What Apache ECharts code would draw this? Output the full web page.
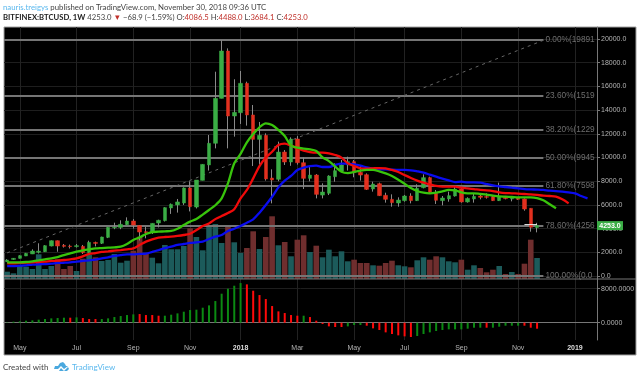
<!DOCTYPE html>
<html>
<head>
<meta charset="utf-8">
<style>
html, body { margin: 0; padding: 0; background: #fff; }
#main { width: 640px; height: 378px; }
</style>
<script src="https://cdn.jsdelivr.net/npm/echarts@6/dist/echarts.min.js"></script>
</head>
<body>
<div id="main"></div>
<script>
// weekly BTCUSD candles
var opens = [1210,1400,1490,1690,1860,2000,2050,2530,2980,2590,2530,2480,2500,1970,2830,2760,3260,4070,4100,4330,4640,4250,3740,3710,4470,4670,5740,6000,6160,7430,5820,8070,9370,11200,14990,18990,13500,13780,16260,13590,11530,11870,8270,8160,10460,9620,11560,9560,8240,8520,6830,6980,8380,8860,9370,9650,8750,8550,7340,7790,6810,6470,6160,6360,6750,6360,7450,8300,6980,6360,6500,6750,7340,6250,6500,6750,6700,6700,6360,6640,6500,6580,6500,5710,4086.5];
var closes = [1350,1490,1716,1910,2110,2100,2560,2980,2530,2500,2480,2560,1970,2840,2750,3290,4110,4110,4360,4640,4300,3710,3660,4440,4700,5770,6050,6250,7430,5850,8100,9420,11200,14990,18990,13500,13810,16260,13590,11530,11870,8190,8100,10460,9620,11560,9560,8240,8520,6890,7090,8440,8890,9370,9650,8720,8520,7310,7760,6780,6470,6190,6410,6750,6360,7400,8300,7060,6390,6580,6780,7340,6250,6550,6720,6640,6640,6360,6700,6530,6560,6470,5650,4110,4253];
var highs = [1420,1520,1750,1950,2250,2760,2600,3000,3000,2700,2650,2700,2620,2980,2900,3320,4120,4500,4700,4950,4800,4300,4160,4440,4750,5800,6120,6500,7480,7990,8100,9430,11900,17240,19891,19210,16600,17300,16400,14430,13000,12040,9000,11340,10630,11700,11810,10000,9230,8600,7820,8500,9510,9790,10070,9790,9370,8660,7960,7880,7030,6890,6640,6840,6980,7740,8580,8380,7260,6750,7120,7540,7450,6640,6980,6980,6980,6840,7880,6750,6750,6640,6550,5710,4488];
var lows = [1190,1370,1480,1680,1850,1900,2030,2500,2050,2400,2320,2400,1860,1900,2500,2700,3200,3950,3950,4300,4000,3000,3180,3550,4100,4600,5240,5350,6000,5450,5700,8070,8900,10770,14990,10770,11760,12830,12690,9280,9400,8050,6130,8000,9370,9300,9400,7340,7990,6550,6550,6830,7960,8800,8900,8330,8050,7260,7120,6750,6190,5850,5850,6270,6130,6330,7400,6980,6080,5960,6270,6700,6190,6190,6190,6470,6530,6330,6330,6470,6300,6420,5510,3740,3684.1];

// alligator style moving averages, these run past the last candle
var greenLine = [1150,1150,1150,1180,1240,1320,1410,1490,1600,1770,1910,2050,2160,2250,2330,2360,2390,2420,2470,2700,3040,3260,3540,3710,3740,3770,3800,3990,4300,4590,4810,5180,5570,5970,6550,7820,9510,10300,11280,11980,12550,12880,12740,12320,11810,11000,10830,10750,10690,10550,10010,9700,9230,8800,8690,8780,8890,8950,8950,8830,8660,8440,8130,7790,7430,7170,7030,6980,7030,7150,7260,7230,7060,6980,6980,6920,6860,6780,6720,6700,6670,6640,6640,6640,6580,6390,6050,5710];
var redLine = [1070,1070,1100,1130,1150,1180,1210,1270,1290,1350,1410,1490,1660,1860,1940,2030,2080,2140,2190,2250,2330,2620,2900,3090,3230,3290,3320,3380,3460,3570,3880,4220,4440,4800,5060,5320,5630,6550,7260,8240,9280,10000,10490,11050,11170,11000,10770,10580,10460,10410,10410,10350,10210,9990,9510,9280,9090,9060,9090,9110,9090,8950,8780,8520,8270,8050,7880,7740,7600,7540,7540,7540,7450,7400,7340,7260,7230,7170,7060,7000,6980,6950,6920,6890,6840,6780,6750,6700,6470,6130];
var blueLine = [840,840,870,900,960,990,1010,1040,1100,1120,1150,1210,1270,1320,1380,1490,1580,1690,1770,1830,1830,1860,1880,2030,2190,2360,2470,2620,2700,2790,2840,2900,3120,3320,3460,3800,3990,4220,4500,4780,5340,5990,6690,7480,8050,8440,8950,9140,9280,9310,9200,9200,9370,9480,9480,9420,9310,9170,9060,9000,9000,8970,8950,8950,8920,8830,8720,8550,8380,8210,8070,7930,7960,7900,7900,7880,7760,7650,7570,7510,7450,7400,7340,7310,7290,7260,7200,7170,7120,7060,6980,6750,6550];

var volumes = [73,57,130,123,100,247,100,130,197,100,130,80,203,240,217,180,190,250,163,183,283,423,250,213,157,340,297,297,330,507,420,287,540,550,360,520,367,260,310,477,300,420,627,337,370,227,393,437,270,333,217,293,227,277,177,193,160,160,137,133,160,183,137,127,117,187,217,193,227,217,177,167,193,93,137,110,67,93,130,50,70,50,153,393,210];

var macd = [78,235,314,470,549,706,862,1019,1098,1176,1176,1254,1098,862,862,862,1019,1333,1568,1803,1960,2038,1803,1803,1646,1646,1882,2195,2587,2979,3058,3528,4077,5096,6821,7997,8702,9330,9016,7526,6507,5566,3920,2666,2274,1803,1646,1646,1333,470,-314,-862,-1019,-1019,-862,-549,-549,-706,-1333,-1725,-2274,-2666,-2979,-3214,-3371,-3136,-2666,-2274,-1960,-1725,-1568,-1568,-1568,-1411,-1176,-1176,-1176,-1176,-941,-706,-706,-706,-706,-1176,-1411];
var macdRed = [10,12,13,14,21,22,23,24,38,39,40,41,42,43,44,45,46,48,49,50,51,52,53,57,58,59,60,61,62,63,64,76,82,83,84];

var fibLevels = [19891,15190,12290,9945,7598,4256,0];
var fibLabels = ['0.00%(19891','23.60%(1519','38.20%(1229','50.00%(9945','61.80%(7598','78.60%(4256','100.00%(0.0'];
var fibTrend = [[0,1950],[85,19891]];
var pointerMark = [[82,4340],[84,4340]];

var priceTicks = [0,2000,4000,6000,8000,10000,12000,14000,16000,18000,20000];
var macdTicks = [0,8000];
var timeTickIndex = [2,11,20,29,37,46,55,63,72,81,90];
var timeTickLabels = ['May','Jul','Sep','Nov','2018','Mar','May','Jul','Sep','Nov','2019'];

var weeks = [];
for (var w = 0; w < 94; w++) {
    weeks.push(new Date(Date.UTC(2017, 3, 17 + w * 7)).toISOString().slice(0, 10));
}

var GREEN = '#3aad45', RED = '#e3301f', WICK = '#8a8a8a', TEXT = '#b4b4b4';
var PANE_LEFT = 4, PANE_W = 593;
var isTick = function (i) { return timeTickIndex.indexOf(i) >= 0; };

var wicks = opens.map(function (o, i) { return [o, closes[i], lows[i], highs[i]]; });
var bodies = opens.map(function (o, i) {
    return [o, closes[i], Math.min(o, closes[i]), Math.max(o, closes[i])];
});
var volumeData = volumes.map(function (v, i) {
    return { value: v, itemStyle: { color: closes[i] >= opens[i] ? '#1c5b5b' : '#6f2e2e' } };
});
var macdData = macd.map(function (v, i) {
    return { value: v, itemStyle: { color: macdRed.indexOf(i) >= 0 ? '#ff0a0a' : '#0b8a12' } };
});

function timeAxis(grid, labels) {
    return {
        type: 'category',
        gridIndex: grid,
        data: weeks,
        axisLine: { show: labels, lineStyle: { color: '#777', width: 1 } },
        axisTick: { show: false, alignWithLabel: true, interval: function (i) { return isTick(i); } },
        splitLine: {
            show: grid !== 1,
            alignWithLabel: true,
            interval: function (i) { return isTick(i); },
            lineStyle: { color: '#222', width: 1 }
        },
        axisLabel: {
            show: labels,
            interval: function (i) { return isTick(i); },
            hideOverlap: false,
            margin: 5,
            fontSize: 7,
            fontFamily: 'Liberation Sans',
            color: TEXT,
            formatter: function (val, i) {
                var s = timeTickLabels[timeTickIndex.indexOf(i)];
                return /^20/.test(s) ? '{y|' + s + '}' : s;
            },
            rich: { y: { fontSize: 7, fontWeight: 'bold', color: '#ddd', fontFamily: 'Liberation Sans' } }
        }
    };
}

var option = {
    animation: false,
    backgroundColor: '#fff',
    title: [
        {
            left: 3, top: 3, padding: 0,
            text: '{a|nauris.treigys} published on TradingView.com, November 30, 2018 09:36 UTC',
            textStyle: { fontSize: 7.8, fontWeight: 'normal', color: '#444', fontFamily: 'Lato',
                rich: { a: { color: '#5ab8ee', fontSize: 7.8, fontFamily: 'Lato' } } }
        },
        {
            left: 3, top: 14, padding: 0,
            text: '{b|BITFINEX:BTCUSD, 1W} 4253.0 {r|▼} −68.9 (−1.59%) O:{r|4086.5} H:{r|4488.0} L:{r|3684.1} C:{r|4253.0}',
            textStyle: { fontSize: 7.7, fontWeight: 'normal', color: '#444', fontFamily: 'Lato',
                rich: {
                    b: { fontWeight: 'bold', color: '#222', fontSize: 7.7, fontFamily: 'Lato' },
                    r: { color: '#c0302a', fontSize: 7.7, fontFamily: 'Lato' }
                } }
        },
        {
            left: 3, top: 363, padding: 0,
            text: 'Created with',
            textStyle: { fontSize: 8, fontWeight: 'normal', color: '#444', fontFamily: 'Lato' }
        },
        {
            left: 72, top: 363, padding: 0,
            text: 'TradingView',
            textStyle: { fontSize: 8, fontWeight: 'normal', color: '#5ab8ee', fontFamily: 'Lato' }
        }
    ],
    graphic: [
        { type: 'rect', z: -10, silent: true, shape: { x: 4, y: 27, width: 632, height: 328 },
          style: { fill: '#000', stroke: '#a0a0a0', lineWidth: 1 } },
        { type: 'line', z: 5, silent: true, shape: { x1: 4, y1: 279, x2: 636, y2: 279 },
          style: { stroke: '#777', lineWidth: 1 } },
        { type: 'polygon', silent: true,
          shape: { points: [[54,369],[55,366],[58,366],[60,363],[63,362],[65,364],[66,366],[68,366],[64,369],[61,366],[58,369]] },
          style: { fill: '#4aa8de' } },
        { type: 'polygon', silent: true,
          shape: { points: [[59,371],[61,368],[64,371],[68,367],[69,369],[67,371]] },
          style: { fill: '#4aa8de' } }
    ],
    grid: [
        { left: PANE_LEFT, top: 27, width: PANE_W, height: 252 },
        { left: PANE_LEFT, top: 209, width: PANE_W, height: 70 },
        { left: PANE_LEFT, top: 279, width: PANE_W, height: 61 }
    ],
    xAxis: [timeAxis(0, false), timeAxis(1, false), timeAxis(2, true)],
    yAxis: [
        {
            type: 'value', gridIndex: 0, position: 'right', min: -253, max: 21013,
            axisLine: { show: true, lineStyle: { color: '#777', width: 1 } },
            axisTick: { show: true, length: 3, customValues: priceTicks, lineStyle: { color: '#777' } },
            axisLabel: {
                customValues: priceTicks, margin: 4, fontSize: 7, color: TEXT,
                fontFamily: 'Liberation Sans',
                formatter: function (v) { return v.toFixed(1); }
            },
            splitLine: { show: true, lineStyle: { color: '#1e1e1e', width: 1 } }
        },
        {
            type: 'value', gridIndex: 1, min: 0, max: 700, show: false, splitLine: { show: false }
        },
        {
            type: 'value', gridIndex: 2, position: 'right', min: -4071, max: 10282,
            axisLine: { show: true, lineStyle: { color: '#777', width: 1 } },
            axisTick: { show: true, length: 3, customValues: macdTicks, lineStyle: { color: '#777' } },
            axisLabel: {
                customValues: macdTicks, margin: 4, fontSize: 7, color: TEXT,
                fontFamily: 'Liberation Sans',
                formatter: function (v) { return v.toFixed(4); }
            },
            splitLine: { show: true, lineStyle: { color: '#1e1e1e', width: 1 } }
        }
    ],
    series: [
        {
            name: 'Volume', type: 'bar', xAxisIndex: 1, yAxisIndex: 1, z: 1,
            barWidth: 5.6, data: volumeData
        },
        {
            name: 'Fib', type: 'custom', xAxisIndex: 0, yAxisIndex: 0, z: 2, silent: true,
            data: fibLevels.map(function (v) { return [85, v]; }),
            renderItem: function (params, api) {
                var end = api.coord([api.value(0), api.value(1)]);
                var y = Math.round(end[1]);
                return {
                    type: 'group',
                    children: [
                        { type: 'line', shape: { x1: params.coordSys.x, y1: y, x2: end[0], y2: y },
                          style: { stroke: '#757575', lineWidth: 2 } },
                        { type: 'text', x: end[0] + 2, y: y,
                          style: { text: fibLabels[params.dataIndex], fill: '#6e6e6e', fontSize: 8.3,
                                   fontFamily: 'Liberation Sans', verticalAlign: 'middle' } }
                    ]
                };
            }
        },
        {
            name: 'Trend', type: 'line', xAxisIndex: 0, yAxisIndex: 0, z: 2, data: fibTrend,
            symbol: 'none', lineStyle: { color: '#666', width: 1, type: [3, 4] }
        },
        {
            name: 'Wick', type: 'candlestick', xAxisIndex: 0, yAxisIndex: 0, z: 3,
            barWidth: 1, data: wicks,
            itemStyle: { color: WICK, color0: WICK, borderColor: WICK, borderColor0: WICK, borderWidth: 1 }
        },
        {
            name: 'BTCUSD', type: 'candlestick', xAxisIndex: 0, yAxisIndex: 0, z: 4,
            barWidth: 4, data: bodies,
            itemStyle: { color: GREEN, color0: RED, borderColor: GREEN, borderColor0: RED, borderWidth: 0.5 }
        },
        {
            name: 'Blue', type: 'line', xAxisIndex: 0, yAxisIndex: 0, z: 5, data: blueLine,
            symbol: 'none', smooth: 0.3, lineStyle: { color: '#0a0cf0', width: 2.3 }
        },
        {
            name: 'Red', type: 'line', xAxisIndex: 0, yAxisIndex: 0, z: 6, data: redLine,
            symbol: 'none', smooth: 0.3, lineStyle: { color: '#f00a0a', width: 2.3 }
        },
        {
            name: 'Green', type: 'line', xAxisIndex: 0, yAxisIndex: 0, z: 7, data: greenLine,
            symbol: 'none', smooth: 0.3, lineStyle: { color: '#38c40c', width: 2.3 }
        },
        {
            name: 'Pointer', type: 'line', xAxisIndex: 0, yAxisIndex: 0, z: 8, data: pointerMark,
            symbol: 'none', lineStyle: { color: '#e8e8e8', width: 1 }
        },
        {
            name: 'Last', type: 'custom', xAxisIndex: 0, yAxisIndex: 0, z: 9, silent: true,
            data: [[closes.length - 1, closes[closes.length - 1]]],
            renderItem: function (params, api) {
                var y = api.coord([api.value(0), api.value(1)])[1];
                var x = params.coordSys.x + params.coordSys.width;
                return {
                    type: 'group',
                    children: [
                        { type: 'rect', shape: { x: x, y: y - 4.5, width: 26, height: 9 }, style: { fill: '#3aad45' } },
                        { type: 'text', x: x + 13, y: y,
                          style: { text: api.value(1).toFixed(1), fill: '#fff', fontSize: 7, fontWeight: 'bold',
                                   fontFamily: 'Liberation Sans', align: 'center', verticalAlign: 'middle' } }
                    ]
                };
            }
        },
        {
            name: 'MACD', type: 'bar', xAxisIndex: 2, yAxisIndex: 2, barWidth: 2, data: macdData
        }
    ]
};

var myChart = echarts.init(document.getElementById('main'), null, { renderer: 'canvas' });
myChart.setOption(option);
</script>
</body>
</html>
